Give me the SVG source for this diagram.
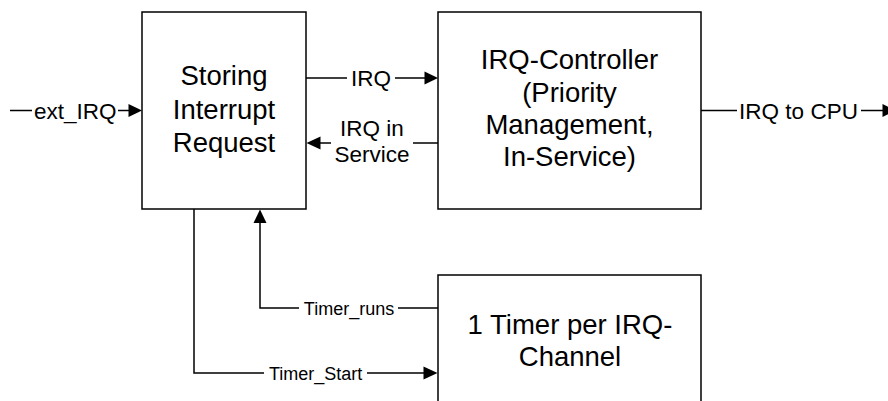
<svg xmlns="http://www.w3.org/2000/svg" width="888" height="401" viewBox="0 0 888 401">
<style>
.box{fill:#fff;stroke:#000;stroke-width:1.5}
.ln{fill:none;stroke:#000;stroke-width:1.5}
.ah{fill:#000;stroke:none}
text{font-family:"Liberation Sans",Arial,sans-serif;fill:#000;text-anchor:middle}
.nt{font-size:27.5px}
.lb{font-size:22.5px}
.sm{font-size:18px}
</style>
<rect width="888" height="401" fill="#fff"/>
<g id="node-storing">
<rect class="box" x="142" y="12" width="164" height="197"/>
<text class="nt" x="224" y="85">Storing</text>
<text class="nt" x="224" y="118.5">Interrupt</text>
<text class="nt" x="224" y="152">Request</text>
</g>
<g id="node-irqctrl">
<rect class="box" x="438" y="12" width="263" height="197"/>
<text class="nt" x="569.5" y="69.3">IRQ-Controller</text>
<text class="nt" x="569.5" y="101.7">(Priority</text>
<text class="nt" x="569.5" y="134">Management,</text>
<text class="nt" x="569.5" y="166.4">In-Service)</text>
</g>
<g id="node-timer">
<rect class="box" x="438" y="275" width="263" height="140"/>
<text class="nt" x="570" y="333.5">1 Timer per IRQ-</text>
<text class="nt" x="570" y="366">Channel</text>
</g>
<g id="connectors">
<!-- ext_IRQ -->
<path class="ln" d="M10 110.5H32 M118 110.5H129"/>
<path class="ah" d="M142 110.5L128.5 104L128.5 117Z"/>
<text class="lb" x="75.3" y="118.5">ext_IRQ</text>
<!-- IRQ -->
<path class="ln" d="M306 78H347 M395 78H425"/>
<path class="ah" d="M438 78L424.5 71.5L424.5 84.5Z"/>
<text class="lb" x="371" y="86">IRQ</text>
<!-- IRQ in Service -->
<path class="ln" d="M438 143H413 M331 143H320"/>
<path class="ah" d="M306.5 143L320.5 136.5L320.5 149.5Z"/>
<text class="lb" x="372" y="136">IRQ in</text>
<text class="lb" x="372" y="162">Service</text>
<!-- IRQ to CPU -->
<path class="ln" d="M701 110.5H737 M861 110.5H884"/>
<path class="ah" d="M896 110.5L882.5 104L882.5 117Z"/>
<text class="lb" x="798.5" y="118.5">IRQ to CPU</text>
<!-- Timer_runs -->
<path class="ln" d="M438 308H398 M299 308H260V222"/>
<path class="ah" d="M260 209.5L253.5 223L266.5 223Z"/>
<text class="sm" x="349" y="314.5">Timer_runs</text>
<!-- Timer_Start -->
<path class="ln" d="M194 209V373H264 M367 373H425"/>
<path class="ah" d="M437.5 373L423.5 366.5L423.5 379.5Z"/>
<text class="sm" x="315.7" y="379.5">Timer_Start</text>
</g>
</svg>
